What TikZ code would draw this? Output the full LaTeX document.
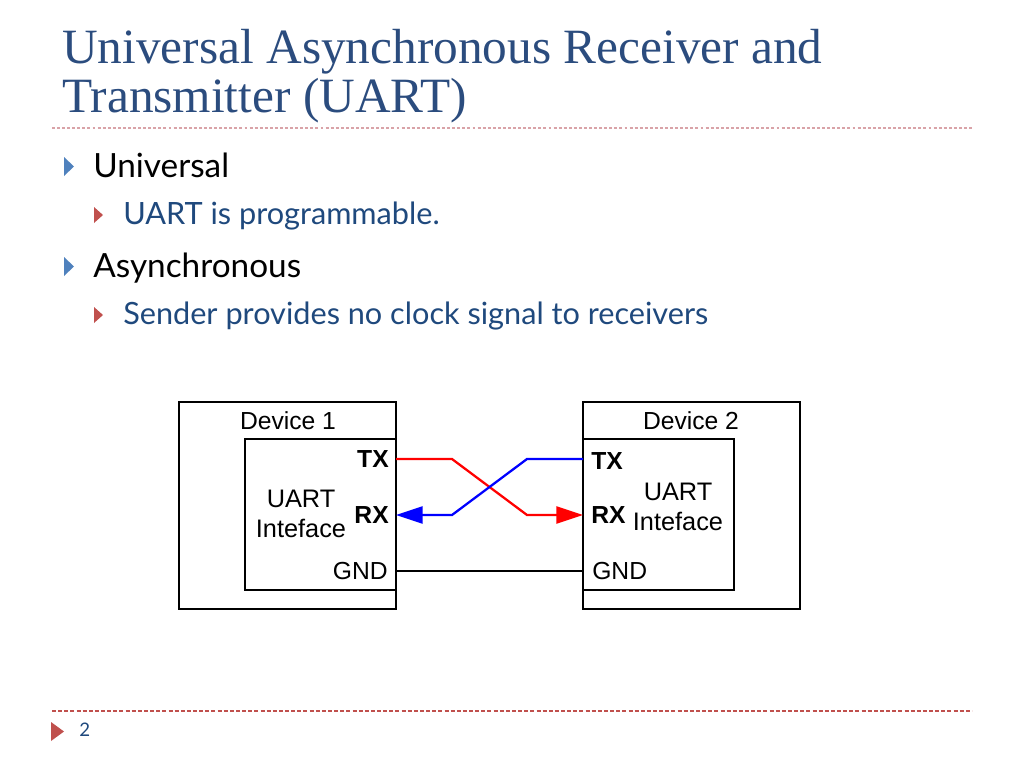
\documentclass[tikz,border=0pt]{standalone}
\usepackage{fontspec}
\setmainfont{Liberation Serif}
\newfontfamily\bulletfont{Lato}
\newfontfamily\diagfont{Liberation Sans}
\usetikzlibrary{arrows.meta}
\definecolor{titleblue}{HTML}{2B4C7E}
\definecolor{textblue}{HTML}{1F497D}
\definecolor{bulblue}{HTML}{4F81BD}
\definecolor{bulred}{HTML}{C0504D}
\definecolor{sepred}{HTML}{D9A3A8}
\definecolor{wirered}{HTML}{FF0000}
\definecolor{wireblue}{HTML}{0000FF}
\tikzset{
  title/.style={anchor=base west, inner sep=0, text=titleblue, font=\fontsize{37}{40}\selectfont},
  lvlone/.style={anchor=base west, inner sep=0, text=black, font=\bulletfont\fontsize{25}{28}\selectfont},
  lvltwo/.style={anchor=base west, inner sep=0, text=textblue, font=\bulletfont\fontsize{23}{26}\selectfont},
  box/.style={draw, line width=1.5pt, inner sep=0},
  dlabel/.style={inner sep=0, font=\diagfont\fontsize{18.5}{21}\selectfont},
  iflabel/.style={inner sep=0, align=center, font=\diagfont\fontsize{19}{22.5}\selectfont},
  pin/.style={inner sep=0, font=\diagfont\bfseries\fontsize{18.5}{21}\selectfont},
  wire/.style={line width=1.7pt},
  tip/.style={-{Triangle[length=20pt,width=12.75pt]}},
}
\begin{document}
\begin{tikzpicture}[x=0.75pt, y=-0.75pt]
\useasboundingbox (0,0) rectangle (1024,768);
% title
\node[title] (t1) at (62,63) {Universal Asynchronous Receiver and};
\node[title] (t2) at (62,112) {Transmitter (UART)};
\draw[sepred, line width=0.9pt, dash pattern=on 2.2pt off 1.6pt] (52,128) -- (972,128);
% bullets
\fill[bulblue] (64,157) -- (74,166.5) -- (64,176) -- cycle;
\node[lvlone] (b1) at (93,177) {Universal};
\fill[bulred] (94,207) -- (103,215) -- (94,223) -- cycle;
\node[lvltwo] (b2) at (123,224) {UART is programmable.};
\fill[bulblue] (64,257) -- (74,266.5) -- (64,276) -- cycle;
\node[lvlone] (b3) at (93,277) {Asynchronous};
\fill[bulred] (94,307) -- (103,315) -- (94,323) -- cycle;
\node[lvltwo] (b4) at (123,324) {Sender provides no clock signal to receivers};
% diagram
\node[box, minimum width=162.75pt, minimum height=155.25pt] (dev1) at (287.5,505.5) {};
\node[box, minimum width=113.25pt, minimum height=113.25pt] (if1) at (320.5,514.5) {};
\node[box, minimum width=162.75pt, minimum height=155.25pt] (dev2) at (691.5,505.5) {};
\node[box, minimum width=113.25pt, minimum height=113.25pt] (if2) at (658.5,514.5) {};
\node[dlabel] (n1) at (288,421) {Device 1};
\node[dlabel] (n2) at (691,421) {Device 2};
\node[iflabel] (u1) at (301,514) {UART\\Inteface};
\node[iflabel] (u2) at (678,507) {UART\\Inteface};
\node[pin, anchor=east] (tx1) at (389,459) {TX};
\node[pin, anchor=east] (rx1) at (389,515) {RX};
\node[dlabel, anchor=east] (g1) at (388,571) {GND};
\node[pin, anchor=west] (tx2) at (591,461) {TX};
\node[pin, anchor=west] (rx2) at (591,515) {RX};
\node[dlabel, anchor=west] (g2) at (592,571) {GND};
\coordinate (p1tx) at (396,459);
\coordinate (p1rx) at (396,515);
\coordinate (p1g) at (396,571);
\coordinate (p2tx) at (583,459);
\coordinate (p2rx) at (583,515);
\coordinate (p2g) at (583,571);
\draw[wire, wirered, tip] (p1tx) -- ++(56,0) -- (527,515) -- (p2rx);
\draw[wire, wireblue, tip] (p2tx) -- ++(-56,0) -- (452,515) -- (p1rx);
\draw[wire] (p1g) -- (p2g);
% footer
\draw[bulred, line width=0.9pt, dash pattern=on 3pt off 1.6pt] (52,711) -- (972,711);
\fill[bulred] (51,722) -- (64,731.5) -- (51,741) -- cycle;
\node[anchor=base west, inner sep=0, text=textblue, font=\bulletfont\fontsize{14}{16}\selectfont] (pg) at (79,736) {2};
\end{tikzpicture}
\end{document}
